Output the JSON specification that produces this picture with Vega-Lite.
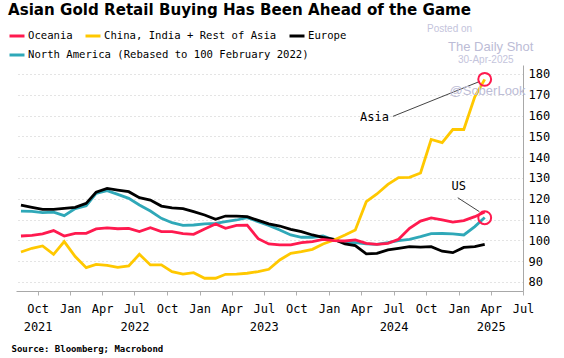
{
  "$schema": "https://vega.github.io/schema/vega-lite/v6.json",
  "width": 507,
  "height": 226,
  "autosize": "none",
  "padding": {"left": 16, "top": 65, "right": 41, "bottom": 67},
  "background": "white",
  "title": {
    "text": "Asian Gold Retail Buying Has Been Ahead of the Game",
    "anchor": "start",
    "frame": "group",
    "font": "DejaVu Sans",
    "fontSize": 15.1,
    "fontWeight": "bold",
    "color": "#000000",
    "dx": -8,
    "offset": 6
  },
  "config": {
    "view": {"stroke": null},
    "legend": {"padding": 0},
    "axisY": {"tickCount": 11}
  },
  "datasets": {
    "d": [
      {"date": "2021-08-15", "oce": 102.1, "asia": 94.4, "eur": 117.0, "na": 114.1},
      {"date": "2021-09-15", "oce": 102.4, "asia": 96.2, "eur": 115.9, "na": 113.9},
      {"date": "2021-10-15", "oce": 103.1, "asia": 97.3, "eur": 114.9, "na": 113.3},
      {"date": "2021-11-15", "oce": 104.7, "asia": 93.3, "eur": 114.9, "na": 113.6},
      {"date": "2021-12-15", "oce": 102.1, "asia": 99.4, "eur": 115.4, "na": 111.9},
      {"date": "2022-01-15", "oce": 103.4, "asia": 92.2, "eur": 115.9, "na": 115.3},
      {"date": "2022-02-15", "oce": 103.4, "asia": 86.9, "eur": 117.8, "na": 116.7},
      {"date": "2022-03-15", "oce": 105.5, "asia": 88.5, "eur": 123.2, "na": 122.6},
      {"date": "2022-04-15", "oce": 106.0, "asia": 88.0, "eur": 125.0, "na": 123.9},
      {"date": "2022-05-15", "oce": 105.6, "asia": 87.0, "eur": 124.2, "na": 122.1},
      {"date": "2022-06-15", "oce": 105.8, "asia": 87.7, "eur": 123.4, "na": 120.2},
      {"date": "2022-07-15", "oce": 104.2, "asia": 93.3, "eur": 120.5, "na": 117.0},
      {"date": "2022-08-15", "oce": 106.1, "asia": 88.2, "eur": 119.4, "na": 114.1},
      {"date": "2022-09-15", "oce": 104.2, "asia": 88.2, "eur": 116.5, "na": 110.6},
      {"date": "2022-10-15", "oce": 104.2, "asia": 85.0, "eur": 115.6, "na": 108.5},
      {"date": "2022-11-15", "oce": 103.2, "asia": 83.8, "eur": 115.3, "na": 107.2},
      {"date": "2022-12-15", "oce": 102.9, "asia": 84.5, "eur": 113.8, "na": 107.4},
      {"date": "2023-01-15", "oce": 105.5, "asia": 81.8, "eur": 112.2, "na": 107.9},
      {"date": "2023-02-15", "oce": 107.9, "asia": 81.8, "eur": 110.1, "na": 108.2},
      {"date": "2023-03-15", "oce": 105.8, "asia": 83.7, "eur": 111.7, "na": 109.0},
      {"date": "2023-04-15", "oce": 107.2, "asia": 83.8, "eur": 111.7, "na": 109.8},
      {"date": "2023-05-15", "oce": 107.3, "asia": 84.2, "eur": 111.4, "na": 110.9},
      {"date": "2023-06-15", "oce": 100.8, "asia": 85.0, "eur": 109.6, "na": 109.0},
      {"date": "2023-07-15", "oce": 98.3, "asia": 86.1, "eur": 107.9, "na": 107.2},
      {"date": "2023-08-15", "oce": 97.8, "asia": 90.6, "eur": 106.9, "na": 105.0},
      {"date": "2023-09-15", "oce": 97.8, "asia": 93.8, "eur": 105.3, "na": 102.6},
      {"date": "2023-10-15", "oce": 98.9, "asia": 94.6, "eur": 104.2, "na": 101.5},
      {"date": "2023-11-15", "oce": 99.4, "asia": 95.7, "eur": 102.6, "na": 101.5},
      {"date": "2023-12-15", "oce": 100.5, "asia": 98.3, "eur": 101.5, "na": 102.1},
      {"date": "2024-01-15", "oce": 99.9, "asia": 100.2, "eur": 100.5, "na": 100.2},
      {"date": "2024-02-15", "oce": 99.7, "asia": 102.6, "eur": 98.3, "na": 99.1},
      {"date": "2024-03-15", "oce": 100.2, "asia": 105.0, "eur": 97.5, "na": 98.9},
      {"date": "2024-04-15", "oce": 98.6, "asia": 118.6, "eur": 93.5, "na": 98.3},
      {"date": "2024-05-15", "oce": 98.1, "asia": 122.3, "eur": 93.8, "na": 98.1},
      {"date": "2024-06-15", "oce": 98.6, "asia": 126.9, "eur": 95.4, "na": 98.9},
      {"date": "2024-07-15", "oce": 100.5, "asia": 130.2, "eur": 96.2, "na": 99.9},
      {"date": "2024-08-15", "oce": 105.8, "asia": 130.3, "eur": 97.0, "na": 100.5},
      {"date": "2024-09-15", "oce": 109.3, "asia": 132.4, "eur": 96.8, "na": 101.8},
      {"date": "2024-10-15", "oce": 110.8, "asia": 148.5, "eur": 97.0, "na": 103.2},
      {"date": "2024-11-15", "oce": 109.8, "asia": 147.0, "eur": 94.8, "na": 103.3},
      {"date": "2024-12-15", "oce": 108.8, "asia": 153.3, "eur": 94.1, "na": 103.1},
      {"date": "2025-01-15", "oce": 109.5, "asia": 153.3, "eur": 96.6, "na": 102.6},
      {"date": "2025-02-15", "oce": 111.4, "asia": 169.0, "eur": 97.0, "na": 106.6},
      {"date": "2025-03-15", "oce": 113.6, "asia": 177.4, "eur": 98.1, "na": 111.0}
    ],
    "labels": [
      {"date": "2024-05-08", "value": 159.3, "label": "Asia"},
      {"date": "2025-01-01", "value": 126.1, "label": "US"}
    ],
    "segs": [
      {"date": "2024-06-29", "value": 159.6, "date2": "2025-03-01", "value2": 176.4},
      {"date": "2024-12-29", "value": 120.5, "date2": "2025-02-28", "value2": 113.8}
    ],
    "circles": [
      {"date": "2025-03-15", "value": 177.4},
      {"date": "2025-03-15", "value": 110.9}
    ],
    "wmSmall": [
      {"date": "2024-12-06", "value": 201.6, "label": "Posted on"},
      {"date": "2025-03-18", "value": 186.7, "label": "30-Apr-2025"}
    ],
    "wmLarge": [
      {"date": "2025-04-01", "value": 193.0, "label": "The Daily Shot"},
      {"date": "2025-03-23", "value": 171.8, "label": "@SoberLook"}
    ]
  },
  "resolve": {"scale": {"color": "independent"}},
  "layer": [
    {
      "data": {"name": "d"},
      "transform": [{"fold": ["na"], "as": ["series", "value"]}],
      "mark": {"type": "line", "strokeWidth": 2.8},
      "encoding": {
        "x": {
          "field": "date", "type": "temporal",
          "scale": {"type": "utc", "domain": [{"year": 2021, "month": 8, "date": 1, "utc": true}, {"year": 2025, "month": 7, "date": 1, "utc": true}]},
          "axis": {
            "title": "Source: Bloomberg; Macrobond",
            "titleFont": "DejaVu Sans Mono", "titleFontSize": 9, "titleFontWeight": "bold", "titleColor": "#000000",
            "titleAnchor": "start", "titleAlign": "left", "titleBaseline": "middle", "titleX": -5, "titleY": 57,
            "tickCount": {"interval": "month", "step": 3},
            "labelExpr": "[utcFormat(datum.value, '%b'), ((utcmonth(datum.value) == 6 && utcyear(datum.value) < 2025) || (utcyear(datum.value) == 2021 && utcmonth(datum.value) == 9) || (utcyear(datum.value) == 2025 && utcmonth(datum.value) == 3)) ? utcFormat(datum.value, '%Y') : '']",
            "labelFont": "DejaVu Sans Mono", "labelFontSize": 12, "labelColor": "#000000",
            "labelLineHeight": 18, "labelPadding": 8, "labelBaseline": "top", "labelFlush": false, "labelOverlap": false,
            "tickSize": 4, "tickColor": "#b0b0b0", "domainColor": "#a8a8a8", "grid": false
          }
        },
        "y": {
          "field": "value", "type": "quantitative",
          "scale": {"domain": [75.67, 184.3], "zero": false},
          "axis": {
            "title": null, "orient": "right",
            "values": [80, 90, 100, 110, 120, 130, 140, 150, 160, 170, 180],
            "tickCount": 11,
            "labelOverlap": false,
            "labelFont": "DejaVu Sans Mono", "labelFontSize": 12, "labelColor": "#000000", "labelPadding": 5,
            "ticks": false, "domainColor": "#a8a8a8",
            "grid": true, "gridColor": "#c8c8c8", "gridDash": [1, 3]
          }
        },
        "color": {
          "field": "series", "type": "nominal",
          "scale": {"domain": ["na"], "range": ["#2fa8b8"]},
          "legend": {
            "orient": "none", "legendX": -8, "legendY": -19, "direction": "horizontal", "title": null,
            "symbolType": "stroke", "symbolSize": 225, "symbolStrokeWidth": 3,
            "labelFont": "DejaVu Sans Mono", "labelFontSize": 10.6, "labelColor": "#000000", "labelOffset": 2, "labelLimit": 500,
            "labelExpr": "'North America (Rebased to 100 February 2022)'"
          }
        }
      }
    },
    {
      "layer": [
        {
          "data": {"name": "d"},
          "transform": [{"fold": ["eur"], "as": ["series", "value"]}],
          "mark": {"type": "line", "strokeWidth": 2.8},
          "encoding": {
            "x": {"field": "date", "type": "temporal", "scale": {"type": "utc", "domain": [{"year": 2021, "month": 8, "date": 1, "utc": true}, {"year": 2025, "month": 7, "date": 1, "utc": true}]}},
            "y": {"field": "value", "type": "quantitative", "scale": {"domain": [75.67, 184.3], "zero": false}},
            "color": {
              "field": "series", "type": "nominal",
              "scale": {"domain": ["oce", "asia", "eur"], "range": ["#ff1a4f", "#ffc800", "#000000"]},
              "legend": {
                "orient": "none", "legendX": -8, "legendY": -38, "direction": "horizontal", "title": null,
                "symbolType": "stroke", "symbolSize": 225, "symbolStrokeWidth": 3, "columnPadding": 6,
                "labelFont": "DejaVu Sans Mono", "labelFontSize": 10.6, "labelColor": "#000000", "labelOffset": 2, "labelLimit": 500,
                "labelExpr": "datum.label == 'oce' ? 'Oceania' : datum.label == 'asia' ? 'China, India + Rest of Asia' : 'Europe'"
              }
            }
          }
        },
        {
          "data": {"name": "d"},
          "transform": [{"fold": ["asia"], "as": ["series", "value"]}],
          "mark": {"type": "line", "strokeWidth": 2.8},
          "encoding": {
            "x": {"field": "date", "type": "temporal", "scale": {"type": "utc", "domain": [{"year": 2021, "month": 8, "date": 1, "utc": true}, {"year": 2025, "month": 7, "date": 1, "utc": true}]}},
            "y": {"field": "value", "type": "quantitative", "scale": {"domain": [75.67, 184.3], "zero": false}},
            "color": {"field": "series", "type": "nominal"}
          }
        },
        {
          "data": {"name": "d"},
          "transform": [{"fold": ["oce"], "as": ["series", "value"]}],
          "mark": {"type": "line", "strokeWidth": 2.8},
          "encoding": {
            "x": {"field": "date", "type": "temporal", "scale": {"type": "utc", "domain": [{"year": 2021, "month": 8, "date": 1, "utc": true}, {"year": 2025, "month": 7, "date": 1, "utc": true}]}},
            "y": {"field": "value", "type": "quantitative", "scale": {"domain": [75.67, 184.3], "zero": false}},
            "color": {"field": "series", "type": "nominal"}
          }
        }
      ]
    },
    {
      "mark": {"type": "rule", "strokeDash": [3, 3], "color": "#333333", "strokeWidth": 1},
      "encoding": {"y": {"datum": 100, "type": "quantitative", "scale": {"domain": [75.67, 184.3], "zero": false}}}
    },
    {
      "data": {"name": "segs"},
      "mark": {"type": "rule", "color": "#444444", "strokeWidth": 1},
      "encoding": {
        "x": {"field": "date", "type": "temporal", "scale": {"type": "utc", "domain": [{"year": 2021, "month": 8, "date": 1, "utc": true}, {"year": 2025, "month": 7, "date": 1, "utc": true}]}},
        "x2": {"field": "date2"},
        "y": {"field": "value", "type": "quantitative", "scale": {"domain": [75.67, 184.3], "zero": false}},
        "y2": {"field": "value2"}
      }
    },
    {
      "data": {"name": "circles"},
      "mark": {"type": "point", "shape": "circle", "size": 165, "filled": false, "color": "#ff1a4f", "strokeWidth": 2, "opacity": 1},
      "encoding": {
        "x": {"field": "date", "type": "temporal", "scale": {"type": "utc", "domain": [{"year": 2021, "month": 8, "date": 1, "utc": true}, {"year": 2025, "month": 7, "date": 1, "utc": true}]}},
        "y": {"field": "value", "type": "quantitative", "scale": {"domain": [75.67, 184.3], "zero": false}}
      }
    },
    {
      "data": {"name": "labels"},
      "mark": {"type": "text", "font": "DejaVu Sans Mono", "fontSize": 12, "color": "#000000", "align": "center", "baseline": "middle"},
      "encoding": {
        "x": {"field": "date", "type": "temporal", "scale": {"type": "utc", "domain": [{"year": 2021, "month": 8, "date": 1, "utc": true}, {"year": 2025, "month": 7, "date": 1, "utc": true}]}},
        "y": {"field": "value", "type": "quantitative", "scale": {"domain": [75.67, 184.3], "zero": false}},
        "text": {"field": "label"}
      }
    },
    {
      "data": {"name": "wmSmall"},
      "mark": {"type": "text", "font": "Liberation Sans", "fontSize": 10, "color": "#c4c4dc", "align": "center", "baseline": "middle"},
      "encoding": {
        "x": {"field": "date", "type": "temporal", "scale": {"type": "utc", "domain": [{"year": 2021, "month": 8, "date": 1, "utc": true}, {"year": 2025, "month": 7, "date": 1, "utc": true}]}},
        "y": {"field": "value", "type": "quantitative", "scale": {"domain": [75.67, 184.3], "zero": false}},
        "text": {"field": "label"}
      }
    },
    {
      "data": {"name": "wmLarge"},
      "mark": {"type": "text", "font": "Liberation Sans", "fontSize": 13, "color": "#bcbcd6", "align": "center", "baseline": "middle"},
      "encoding": {
        "x": {"field": "date", "type": "temporal", "scale": {"type": "utc", "domain": [{"year": 2021, "month": 8, "date": 1, "utc": true}, {"year": 2025, "month": 7, "date": 1, "utc": true}]}},
        "y": {"field": "value", "type": "quantitative", "scale": {"domain": [75.67, 184.3], "zero": false}},
        "text": {"field": "label"}
      }
    }
  ]
}
